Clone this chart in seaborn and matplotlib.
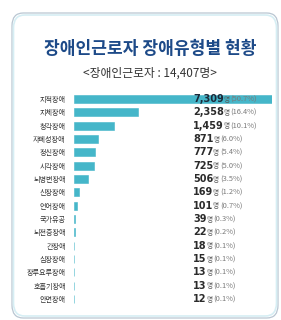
import seaborn as sns
import pandas as pd
from matplotlib import pyplot as plt
from matplotlib.patches import FancyBboxPatch

categories = ['지적장애', '지체장애', '청각장애', '자폐성장애', '정신장애', '시각장애',
              '뇌병변장애', '신장장애', '언어장애', '국가유공', '뇌전증장애', '간장애',
              '심장장애', '장루요루장애', '호흡기장애', '안면장애']
counts = [7309, 2358, 1459, 871, 777, 725, 506, 169, 101, 39, 22, 18, 15, 13, 13, 12]
shares = ['50.7%', '16.4%', '10.1%', '6.0%', '5.4%', '5.0%', '3.5%', '1.2%',
          '0.7%', '0.3%', '0.2%', '0.1%', '0.1%', '0.1%', '0.1%', '0.1%']
title = '장애인근로자 장애유형별 현황'
subtitle = '<장애인근로자 : 14,407명>'

sns.set_theme(style='white')
plt.rcParams['font.family'] = ['Noto Sans CJK KR', 'DejaVu Sans']

W, H = 281, 320
fig = plt.figure(figsize=(W / 100, H / 100), dpi=100)
fig.patch.set_facecolor('white')

# card behind everything
card = FancyBboxPatch((12 / W, 2 / H), 266 / W, 305 / H,
                      boxstyle='round,pad=0,rounding_size=0.04',
                      transform=fig.transFigure, facecolor='white',
                      edgecolor='#b9c6d2', linewidth=0.9, zorder=-5)
fig.patches.append(card)
glow = FancyBboxPatch((13.5 / W, 4 / H), 263 / W, 301 / H,
                      boxstyle='round,pad=0,rounding_size=0.04',
                      transform=fig.transFigure, facecolor='none',
                      edgecolor='#d6eef4', linewidth=1.2, zorder=-4)
fig.patches.append(glow)

fig.text(150 / W, 1 - 49 / H, title, ha='center', va='center',
         fontsize=12.3, fontweight='black', color='#1d4a88')
fig.text(150 / W, 1 - 73 / H, subtitle, ha='center', va='center',
         fontsize=8.5, fontweight='medium', color='#333333')

# axes: rows centred from y=99 to y=299 px, bars from x=74 to 272 px
row = (299 - 99) / (len(categories) - 1)
top = 99 - row / 2
bottom = 299 + row / 2
ax = fig.add_axes([74 / W, 1 - bottom / H, 198 / W, (bottom - top) / H])
ax.set_facecolor('none')

df = pd.DataFrame({'category': categories, 'count': counts})
sns.barplot(data=df, x='count', y='category', orient='h', color='#45b6c9',
            saturation=1, width=0.58, edgecolor='#45b6c9', linewidth=0.4, ax=ax)
ax.set_xlim(0, max(counts))
ax.set_ylim(len(categories) - 0.5, -0.5)
ax.set_xlabel('')
ax.set_ylabel('')
ax.set_xticks([])
ax.tick_params(axis='y', length=0, pad=6, labelsize=5.1, labelcolor='#333333')
sns.despine(ax=ax, left=True, bottom=True)

lx = (193 - 74) / 198
for i, (c, s) in enumerate(zip(counts, shares)):
    t = ax.text(lx, i, f'{c:,}', transform=ax.get_yaxis_transform(),
                ha='left', va='center', fontsize=7, fontweight='bold',
                family='DejaVu Sans',
                color='#1c2a3a' if i == 0 else '#2b2b2b')
    t2 = ax.annotate('명', xy=(1, 0), xycoords=t, xytext=(-0.3, 0.2),
                     textcoords='offset points', ha='left', va='bottom',
                     fontsize=4.8, color='#555555')
    ax.annotate(f'({s})', xy=(1, 0), xycoords=t2, xytext=(0.6, 0),
                textcoords='offset points', ha='left', va='bottom',
                fontsize=5.4, color='#7a7a7a')

fig.savefig('out.png', dpi=100)
